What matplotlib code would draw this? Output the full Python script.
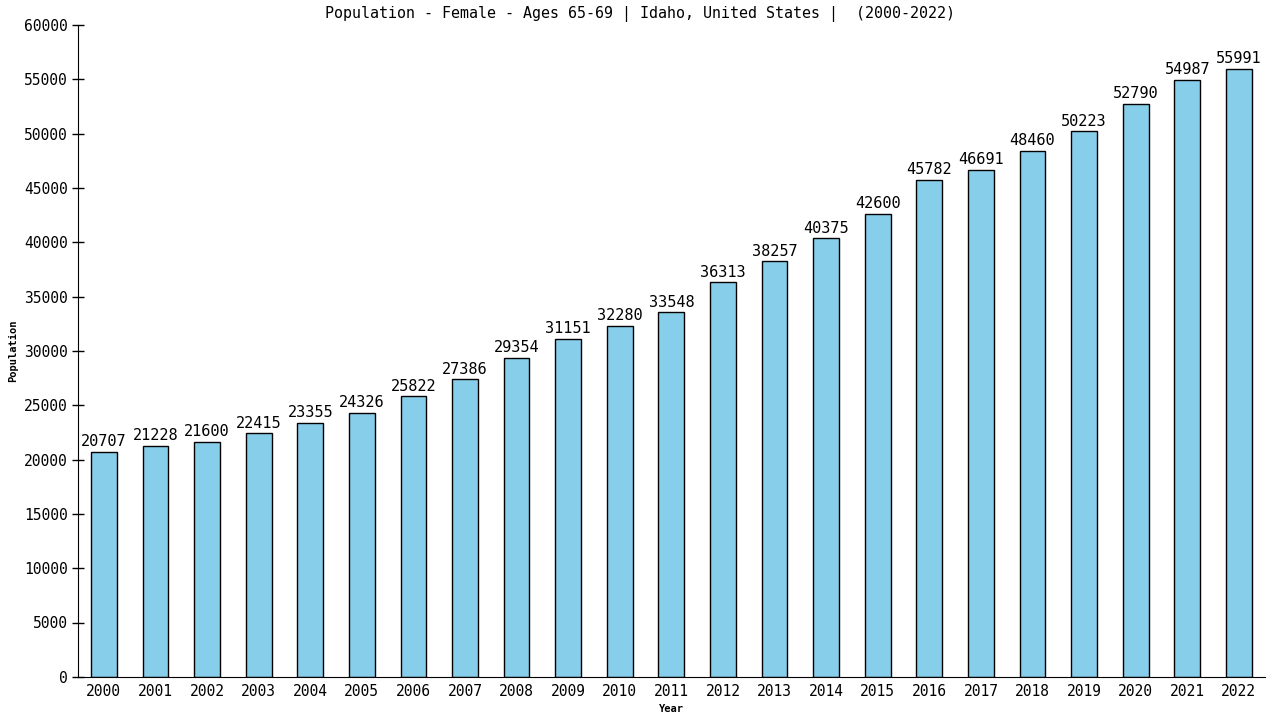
import matplotlib
matplotlib.use('Agg')
import matplotlib.pyplot as plt

years = list(range(2000, 2023))
population = [20707, 21228, 21600, 22415, 23355, 24326, 25822, 27386, 29354, 31151,
              32280, 33548, 36313, 38257, 40375, 42600, 45782, 46691, 48460, 50223,
              52790, 54987, 55991]

plt.rcParams['font.family'] = 'DejaVu Sans Mono'

fig = plt.figure(figsize=(12.8, 7.2), dpi=100)
ax_left, ax_width = 0.061, 0.927
ax = fig.add_axes([ax_left, 0.06, ax_width, 0.905])

x = list(range(len(years)))
ax.bar(x, population, width=0.5, color='#87CEEB', edgecolor='black', linewidth=1)

for xi, v in zip(x, population):
    ax.annotate(str(v), (xi, v), textcoords="offset points", xytext=(0, 2),
                ha='center', va='bottom', fontsize=11)

ax.set_xlim(-0.5, len(years) - 0.5)
ax.set_ylim(0, 60000)
ax.set_yticks(range(0, 60001, 5000))
ax.set_xticks(x)
ax.set_xticklabels([str(y) for y in years])
ax.tick_params(axis='y', direction='inout', length=8, labelsize=10.5, width=1)
ax.tick_params(axis='x', length=0, pad=5, labelsize=10.5)

ax.spines['top'].set_visible(False)
ax.spines['right'].set_visible(False)

# title is centred on the figure, not the axes
ax.set_title("Population - Female - Ages 65-69 | Idaho, United States |  (2000-2022)",
             fontsize=10.8, pad=5, x=(0.5 - ax_left) / ax_width)
ax.set_xlabel("Year", fontsize=7.5, fontweight='bold')
ax.set_ylabel("Population", fontsize=7.5, fontweight='bold')

fig.savefig("out.png", dpi=100)
